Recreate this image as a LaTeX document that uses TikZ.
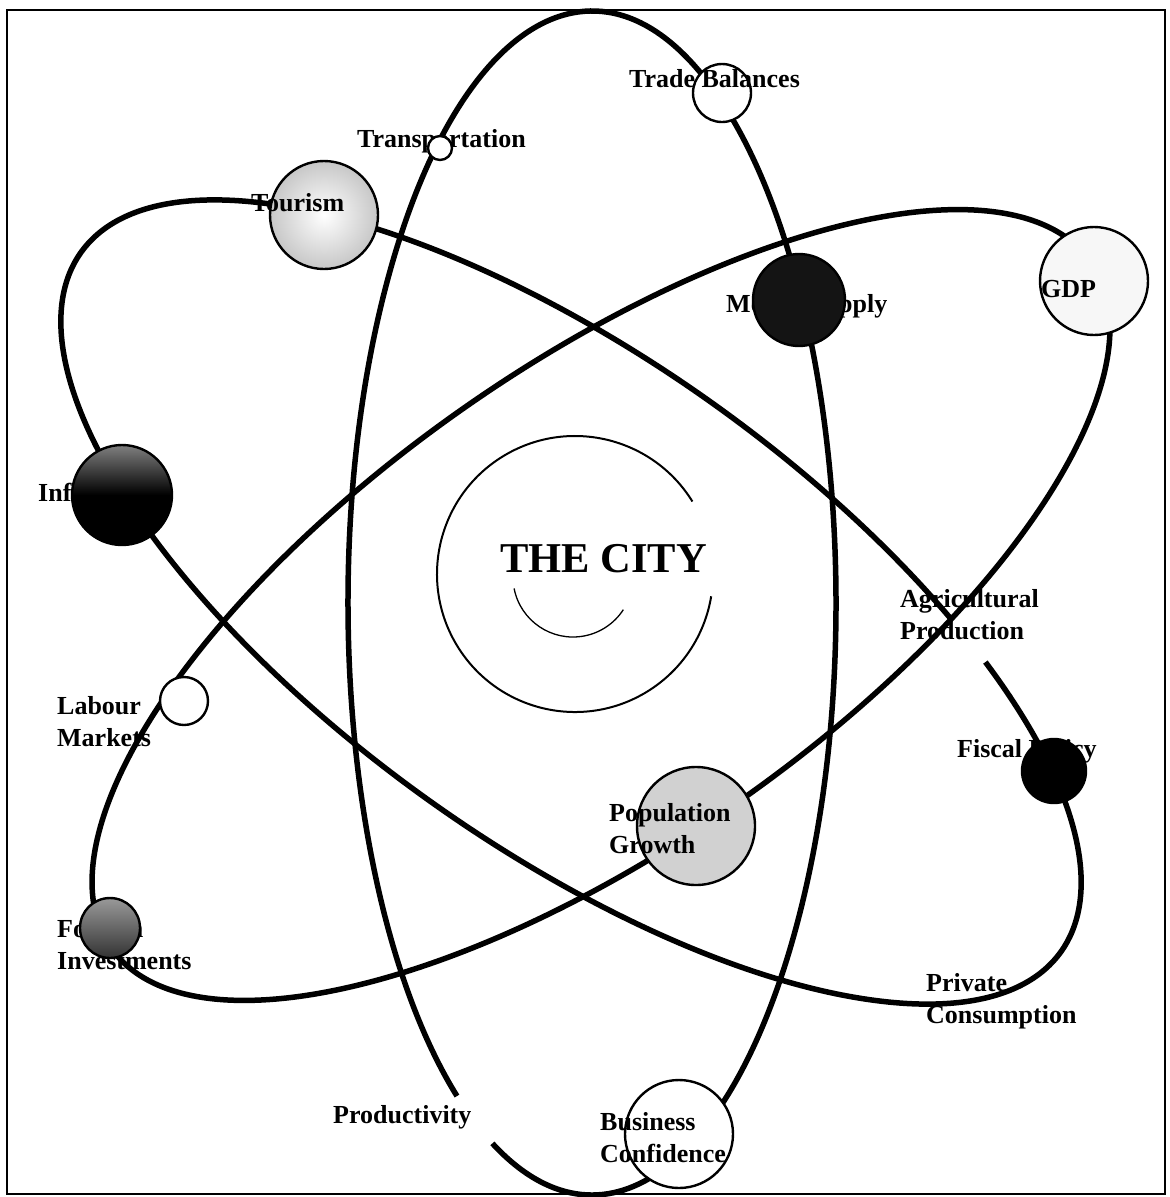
\documentclass[tikz,border=0pt]{standalone}
\usepackage{fontspec}
\setmainfont{Liberation Serif}
\begin{document}
\begin{tikzpicture}[x=1pt, y=-1pt,
  orbit/.style={line width=5.5pt, line join=round},
  planet/.style={circle, draw, line width=2.4pt, inner sep=0pt, fill=white},
  lbl/.style={font=\fontsize{26}{32}\selectfont\bfseries, inner sep=0pt, align=left, anchor=base west},
  cityfont/.style={font=\fontsize{42.5}{50}\selectfont\bfseries, inner sep=0pt, anchor=base west}]
\useasboundingbox (0,0) rectangle (1170,1197);
\fill[white] (0,0) rectangle (1170,1197);
% outer frame
\draw[line width=2.5pt] (7,10) rectangle (1165,1194);

% vertical orbit, broken beside "Productivity"
\begin{scope}[shift={(592,603)}]
  \draw[orbit] (123.6:244 and 592)
    arc[start angle=123.6, end angle=474.1, x radius=244, y radius=592];
\end{scope}

% orbit from Tourism down to Private Consumption, broken at Agricultural Production
\begin{scope}[shift={(571,602)}, rotate=-35.5]
  \draw[orbit] (-51.8:602 and 244)
    arc[start angle=-51.8, end angle=302.2, x radius=602, y radius=244];
\end{scope}

% orbit from GDP down to Foreign Investments
\begin{scope}[shift={(601,605)}, rotate=35]
  \draw[orbit] (0,0) ellipse[x radius=598, y radius=240];
\end{scope}

% the spiral round the centre
\draw[line width=2pt] ([shift={(-31.7:138)}]575,574)
  arc[start angle=-31.7, end angle=-350.7, radius=138];
\draw[line width=1.3pt] ([shift={(169:60)}]573,577)
  arc[start angle=169, end angle=33, radius=60];
\node[cityfont] (city) at (500,572) {THE CITY};

% light planets
\node[planet, minimum size=58pt] (trade) at (722,93) {};
\node[planet, minimum size=108pt, inner color=white, outer color=black!22] (tourism) at (324,215) {};
\node[planet, minimum size=108pt, fill=black!3] (gdp) at (1094,281) {};
\node[planet, minimum size=48pt] (labour) at (184,701) {};
\node[planet, minimum size=118pt, fill=black!18] (pop) at (696,826) {};
\node[planet, minimum size=108pt] (business) at (679,1134) {};

% labels (two-line labels are placed by the baseline of their last line)
\node[lbl] (tTrade) at (629,87) {Trade Balances};
\node[lbl] (tTransport) at (357,147) {Transportation};
\node[lbl] (tTourism) at (251,211) {Tourism};
\node[lbl] (tMoney) at (726,312) {Money Supply};
\node[lbl] (tGdp) at (1041,297) {GDP};
\node[lbl] (tInflation) at (38,501) {Inflation};
\node[lbl] (tAgri) at (900,639) {Agricultural\\Production};
\node[lbl] (tLabour) at (57,746) {Labour\\Markets};
\node[lbl] (tFiscal) at (957,757) {Fiscal Policy};
\node[lbl] (tPop) at (609,853) {Population\\Growth};
\node[lbl] (tForeign) at (57,969) {Foreign\\Investments};
\node[lbl] (tPrivate) at (926,1023) {Private\\Consumption};
\node[lbl] (tProd) at (333,1123) {Productivity};
\node[lbl] (tBusiness) at (600,1162) {Business\\Confidence};

% dark planets, laid over their labels
\node[planet, minimum size=24pt] (transport) at (440,148) {};
\node[planet, minimum size=92pt, fill=black!92] (money) at (799,300) {};
\node[planet, minimum size=100pt, top color=black!50, bottom color=black, middle color=black] (inflation) at (122,495) {};
\node[planet, minimum size=64pt, fill=black] (fiscal) at (1054,771) {};
\node[planet, minimum size=60pt, top color=black!40, bottom color=black!80] (foreign) at (110,928) {};
\end{tikzpicture}
\end{document}
